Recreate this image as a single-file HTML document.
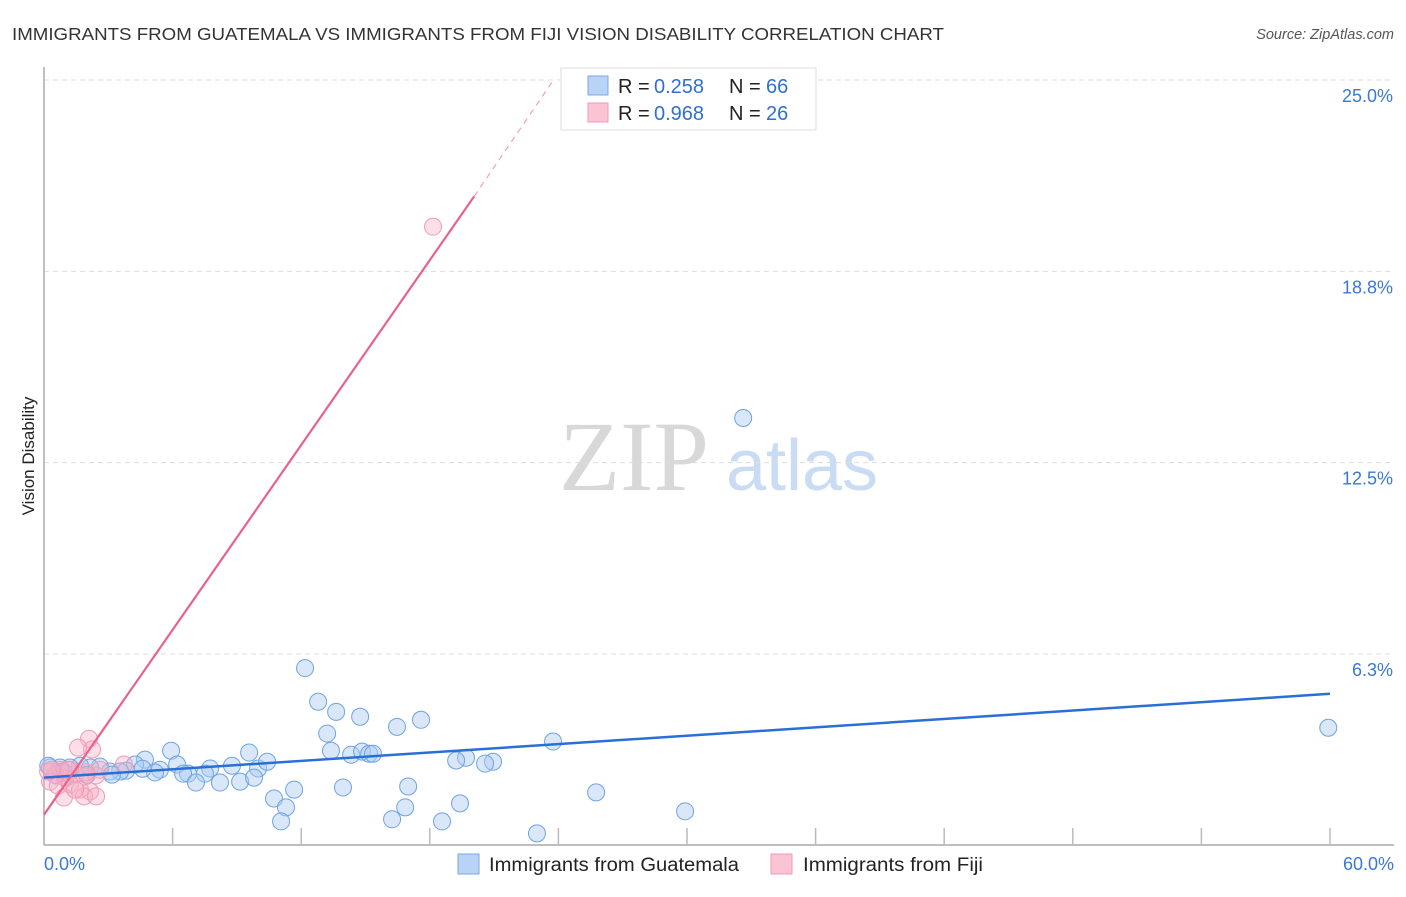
<!DOCTYPE html>
<html><head><meta charset="utf-8"><style>
body{margin:0;background:#fff;font-family:"Liberation Sans",sans-serif;}
</style></head><body>
<svg id="chart" width="1406" height="892" font-family="Liberation Sans, sans-serif">
<text x="12" y="40" font-size="17.5" fill="#333" textLength="932" lengthAdjust="spacingAndGlyphs">IMMIGRANTS FROM GUATEMALA VS IMMIGRANTS FROM FIJI VISION DISABILITY CORRELATION CHART</text>
<text x="1394" y="39" font-size="14.5" fill="#555" font-style="italic" text-anchor="end">Source: ZipAtlas.com</text>
<text x="34" y="456" font-size="17" fill="#222" text-anchor="middle" transform="rotate(-90 34 456)">Vision Disability</text>
<g>
<text x="634" y="490" font-size="100" fill="#d8d8d8" text-anchor="middle" style="font-family:'Liberation Serif',serif">ZIP</text>
<text x="802" y="490" font-size="72" fill="#c9dcf3" text-anchor="middle">atlas</text>
</g>
<g id="grid"></g>
<g id="axes"></g>
<g id="marks"></g>
<g>
<rect x="561" y="68" width="255" height="62" fill="#fff" stroke="#ddd"/>
<rect x="588" y="76" width="20" height="19" fill="#b8d3f5" stroke="#7aa8e6"/>
<rect x="588" y="103" width="20" height="19" fill="#fbc4d4" stroke="#f09ab4"/>
<text x="618" y="93" font-size="20" fill="#222">R =</text>
<text x="654" y="93" font-size="20" fill="#2f6fd0">0.258</text>
<text x="729" y="93" font-size="20" fill="#222">N =</text>
<text x="766" y="93" font-size="20" fill="#2f6fd0">66</text>
<text x="618" y="120" font-size="20" fill="#222">R =</text>
<text x="654" y="120" font-size="20" fill="#2f6fd0">0.968</text>
<text x="729" y="120" font-size="20" fill="#222">N =</text>
<text x="766" y="120" font-size="20" fill="#2f6fd0">26</text>
</g>
<g>
<rect x="458" y="854" width="21" height="20" fill="#b8d3f5" stroke="#7aa8e6"/>
<text x="489" y="871" font-size="19" fill="#222" textLength="250" lengthAdjust="spacingAndGlyphs">Immigrants from Guatemala</text>
<rect x="771" y="854" width="21" height="20" fill="#fbc4d4" stroke="#f09ab4"/>
<text x="803" y="871" font-size="19" fill="#222" textLength="180" lengthAdjust="spacingAndGlyphs">Immigrants from Fiji</text>
</g>
</svg>
<script>
const yTicks=[6.25,12.5,18.75,25];
const yTickLabels=["6.3%","12.5%","18.8%","25.0%"];
const xTickLabels=["0.0%","60.0%"];
const guatX=[12.18,12.79,13.63,14.75,17.59,16.47,13.21,9.57,5.93,13.39,14.33,14.84,15.17,15.35,19.69,19.23,20.95,20.58,23.75,59.92,32.62,4.71,6.21,9.99,10.41,8.77,7.75,7.51,6.72,6.49,5.41,5.18,4.25,3.83,3.55,3.08,2.61,2.15,1.68,1.21,0.75,0.28,8.21,7.09,9.15,9.80,11.67,13.95,16.99,25.76,10.73,11.29,16.85,19.41,11.06,16.24,18.57,23.0,29.91,3.17,0.89,0.56,0.2,1.0,2.0,4.6];
const guatY=[5.79,4.69,4.36,4.20,4.10,3.87,3.65,3.03,3.09,3.09,2.96,3.06,2.99,2.99,2.86,2.77,2.73,2.67,3.39,3.84,13.96,2.80,2.64,2.51,2.73,2.60,2.51,2.34,2.34,2.34,2.47,2.38,2.64,2.44,2.41,2.41,2.57,2.54,2.60,2.54,2.54,2.54,2.05,2.05,2.08,2.21,1.82,1.89,1.92,1.73,1.53,1.24,1.24,1.37,0.78,0.85,0.78,0.39,1.11,2.31,2.41,2.28,2.6,2.2,2.3,2.5];
const fijiX=[18.15,2.10,2.24,1.59,3.73,2.43,1.91,1.45,1.21,0.98,0.51,0.28,0.65,1.21,1.68,2.15,0.93,1.87,2.43,1.45,0.75,0.19,2.61,1.12,0.37,1.96];
const fijiY=[20.21,3.48,3.13,3.19,2.64,2.28,2.25,2.31,2.47,2.21,2.31,2.08,1.95,1.99,1.82,1.76,1.56,1.60,1.60,1.82,2.47,2.41,2.47,2.47,2.47,2.38];
const guatLine=[[0,2.21],[60,4.95]];
const fijiLine=[[0,1.0],[20.07,21.2]];
const fijiDash=[[20.07,21.2],[23.7,24.93]];
const NS="http://www.w3.org/2000/svg";
const xs=v=>44+v*(1286/60);
const ys=v=>845.3-v*30.61;
function mk(tag,attrs,parent){const e=document.createElementNS(NS,tag);for(const k in attrs)e.setAttribute(k,attrs[k]);parent.appendChild(e);return e;}
const grid=document.getElementById('grid'),axes=document.getElementById('axes'),marks=document.getElementById('marks');
yTicks.forEach((t,i)=>{
 const l=mk('line',{x1:44,x2:1394,y1:ys(t),y2:ys(t),stroke:'#ddd','stroke-dasharray':'5,4'},grid);
 
 
 const tx=mk('text',{x:1393,y:ys(t)+22,'font-size':18,fill:'#3a78d4','text-anchor':'end'},axes);
 tx.textContent=yTickLabels[i];
 
 
});
const ya=mk('line',{x1:44,x2:44,y1:67,y2:845,stroke:'#aaa','stroke-width':1.5},axes);


const xa=mk('line',{x1:44,x2:1394,y1:845,y2:845,stroke:'#aaa','stroke-width':1.5},axes);


for(let i=1;i<=10;i++){
 const tk=mk('line',{x1:xs(i*6),x2:xs(i*6),y1:828,y2:845,stroke:'#bbb','stroke-width':1.5},axes);
 
 
}
[[0,'start',44],[1,'end',1394]].forEach(([i,a,x])=>{
 const tx=mk('text',{x:x,y:870,'font-size':18,fill:'#3a78d4','text-anchor':a},axes);
 tx.textContent=xTickLabels[i];
 
 
});
guatX.forEach((x,i)=>{
 const c=mk('circle',{cx:xs(x),cy:ys(guatY[i]),r:8.5,fill:'rgba(170,202,242,0.45)',stroke:'#6ea4e4','stroke-width':1},marks);
 
 
});
fijiX.forEach((x,i)=>{
 const c=mk('circle',{cx:xs(x),cy:ys(fijiY[i]),r:8.5,fill:'rgba(248,176,198,0.4)',stroke:'#f29ab4','stroke-width':1},marks);
 
 
});
const bl=mk('line',{x1:xs(guatLine[0][0]),y1:ys(guatLine[0][1]),x2:xs(guatLine[1][0]),y2:ys(guatLine[1][1]),stroke:'#2a6fd6','stroke-width':2.5},marks);


const pl=mk('line',{x1:xs(fijiLine[0][0]),y1:ys(fijiLine[0][1]),x2:xs(fijiLine[1][0]),y2:ys(fijiLine[1][1]),stroke:'#e8628c','stroke-width':2.2},marks);


const pd=mk('line',{x1:xs(fijiDash[0][0]),y1:ys(fijiDash[0][1]),x2:xs(fijiDash[1][0]),y2:ys(fijiDash[1][1]),stroke:'#f0a0b8','stroke-width':1.2,'stroke-dasharray':'6,5'},marks);


</script>
</body></html>
